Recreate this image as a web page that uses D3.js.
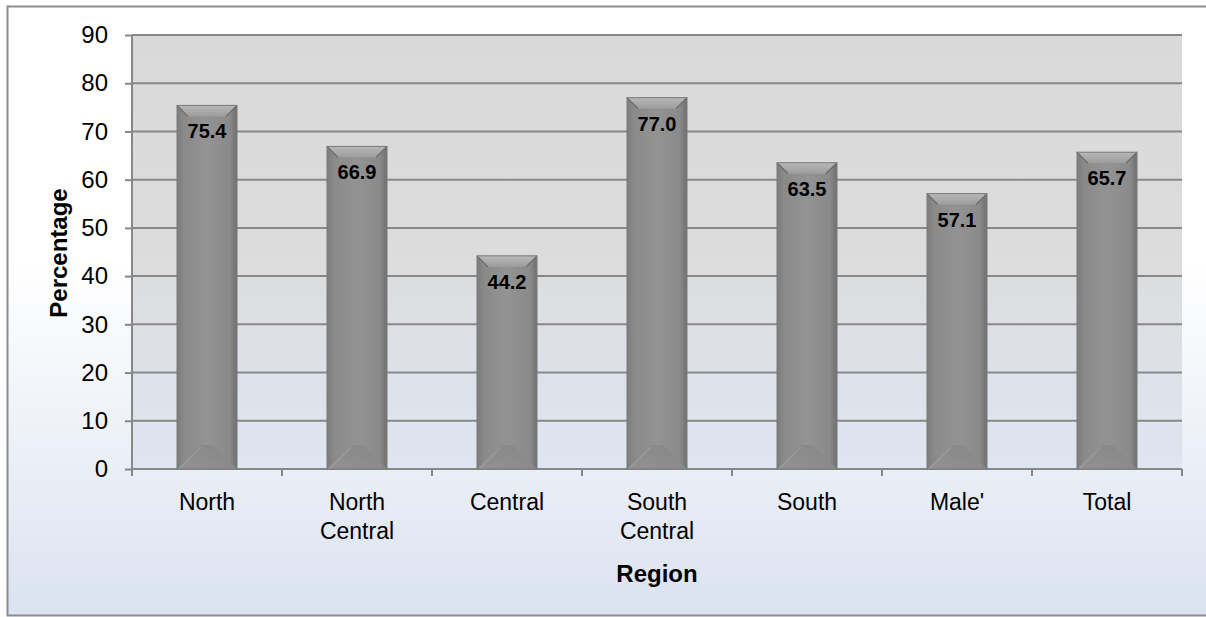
<!DOCTYPE html>
<html><head><meta charset="utf-8">
<script src="https://cdn.jsdelivr.net/npm/d3@7"></script>
<style>body{margin:0;background:#fff;}svg{display:block;font-family:Arial,"Liberation Sans",sans-serif;}</style>
</head><body>
<svg id="c" width="1206" height="617"></svg>
<script>
const categories = [["North"],["North","Central"],["Central"],["South","Central"],["South"],["Male'"],["Total"]];
const values = [75.4, 66.9, 44.2, 77.0, 63.5, 57.1, 65.7];
const yTicks = [0,10,20,30,40,50,60,70,80,90];
const yTitle = "Percentage";
const xTitle = "Region";

const svg = d3.select("#c");
const defs = svg.append("defs");
const bg = defs.append("linearGradient").attr("id","bg").attr("x1",0).attr("y1",0).attr("x2",0).attr("y2",1);
bg.append("stop").attr("offset","0%").attr("stop-color","#ffffff");
bg.append("stop").attr("offset","42%").attr("stop-color","#ffffff");
bg.append("stop").attr("offset","100%").attr("stop-color","#dbe2f0");
const pg = defs.append("linearGradient").attr("id","pg").attr("x1",0).attr("y1",0).attr("x2",0).attr("y2",1);
pg.append("stop").attr("offset","0%").attr("stop-color","#d9d9d9");
pg.append("stop").attr("offset","50%").attr("stop-color","#dcdcdc");
pg.append("stop").attr("offset","100%").attr("stop-color","#dfe5f1");
const barG = defs.append("linearGradient").attr("id","barG").attr("x1",0).attr("y1",0).attr("x2",1).attr("y2",0);
barG.append("stop").attr("offset","0%").attr("stop-color","#7c7c7c");
barG.append("stop").attr("offset","12%").attr("stop-color","#8a8a8a");
barG.append("stop").attr("offset","50%").attr("stop-color","#939393");
barG.append("stop").attr("offset","88%").attr("stop-color","#8a8a8a");
barG.append("stop").attr("offset","100%").attr("stop-color","#6e6e6e");
const topG = defs.append("linearGradient").attr("id","topG").attr("x1",0).attr("y1",0).attr("x2",0).attr("y2",1);
topG.append("stop").attr("offset","0%").attr("stop-color","#b8b8b8");
topG.append("stop").attr("offset","100%").attr("stop-color","#9c9c9c");
const botG = defs.append("linearGradient").attr("id","botG").attr("x1",0).attr("y1",1).attr("x2",1).attr("y2",0);
botG.append("stop").attr("offset","0%").attr("stop-color","#929292");
botG.append("stop").attr("offset","100%").attr("stop-color","#858585");

svg.append("rect").attr("x",7.5).attr("y",6.5).attr("width",1210).attr("height",609)
  .attr("fill","url(#bg)").attr("stroke","#8c8c8c").attr("stroke-width",2);

const L=132,R=1182,T=35,B=469;
const x = d3.scaleBand().domain(d3.range(categories.length)).range([L,R]).paddingInner(0.6).paddingOuter(0.3);
const y = d3.scaleLinear().domain([0,90]).range([B,T]);

svg.append("rect").attr("x",L).attr("y",T).attr("width",R-L).attr("height",B-T).attr("fill","url(#pg)");

// gridlines
svg.append("g").selectAll("line").data(yTicks.filter(d=>d>0)).join("line")
  .attr("x1",L).attr("x2",R).attr("y1",d=>y(d)).attr("y2",d=>y(d))
  .attr("stroke","#878787").attr("stroke-width",2);

// y axis
const ya = svg.append("g").attr("transform",`translate(${L},0)`)
  .call(d3.axisLeft(y).tickValues(yTicks).tickSize(7).tickPadding(17).tickFormat(d3.format("d")));
ya.select(".domain").attr("stroke","#878787").attr("stroke-width",2).attr("d",`M0,${T}V${B+7}`);
ya.selectAll(".tick line").attr("stroke","#878787").attr("stroke-width",2);
ya.selectAll(".tick text").attr("font-size",24).attr("fill","#000").attr("font-family","Arial, 'Liberation Sans', sans-serif");

// x axis
const xa = svg.append("g").attr("transform",`translate(0,${B})`);
xa.append("line").attr("x1",L).attr("x2",R).attr("y1",0).attr("y2",0).attr("stroke","#878787").attr("stroke-width",2);
const step = x.step();
xa.selectAll("line.t").data(d3.range(categories.length+1)).join("line").attr("class","t")
  .attr("x1",i=>L+i*step).attr("x2",i=>L+i*step).attr("y1",0).attr("y2",7)
  .attr("stroke","#878787").attr("stroke-width",2);
const xl = xa.selectAll("text").data(categories).join("text")
  .attr("text-anchor","middle").attr("font-size",23).attr("fill","#000")
  .attr("transform",(d,i)=>`translate(${x(i)+x.bandwidth()/2},0)`);
xl.selectAll("tspan").data(d=>d).join("tspan").attr("x",0).attr("y",(d,j)=>41+j*29).text(d=>d);

// bars
const bars = svg.append("g").selectAll("g").data(values).join("g");
bars.each(function(v,i){
  const g = d3.select(this);
  const x0 = x(i), w = x.bandwidth(), x1 = x0+w, yt = y(v), yb = y(0);
  const b = 11, bb = 24;
  g.append("rect").attr("x",x0).attr("y",yt).attr("width",w).attr("height",yb-yt).attr("fill","url(#barG)");
  // bottom bevel
  g.append("path").attr("d",`M${x0},${yb}L${x0+bb},${yb-bb}L${x1-bb},${yb-bb}L${x1},${yb}Z`).attr("fill","url(#botG)").attr("opacity",0.9);
  g.append("path").attr("d",`M${x0+2},${yb}L${x0+bb},${yb-bb+2}`).attr("stroke","#a0a0a0").attr("stroke-width",1.5).attr("opacity",0.7);
  // top bevel
  g.append("path").attr("d",`M${x0},${yt}L${x1},${yt}L${x1-b},${yt+b}L${x0+b},${yt+b}Z`).attr("fill","url(#topG)");
  g.append("path").attr("d",`M${x0},${yt}L${x0+b},${yt+b}`).attr("stroke","#6a6a6a").attr("stroke-width",1.2);
  g.append("path").attr("d",`M${x1},${yt}L${x1-b},${yt+b}`).attr("stroke","#6a6a6a").attr("stroke-width",1.2);
  g.append("rect").attr("x",x0).attr("y",yt).attr("width",w).attr("height",yb-yt).attr("fill","none").attr("stroke","#7a7a7a").attr("stroke-width",1);
  g.append("text").attr("x",x0+w/2).attr("y",yt+33).attr("text-anchor","middle")
    .attr("font-size",20).attr("font-weight","bold").attr("fill","#000").text(d3.format(".1f")(v));
});

// titles
svg.append("text").attr("transform",`translate(67,253) rotate(-90)`).attr("text-anchor","middle")
  .attr("font-size",24).attr("font-weight","bold").text(yTitle);
svg.append("text").attr("x",657).attr("y",582).attr("text-anchor","middle")
  .attr("font-size",24).attr("font-weight","bold").text(xTitle);
</script>
</body></html>
